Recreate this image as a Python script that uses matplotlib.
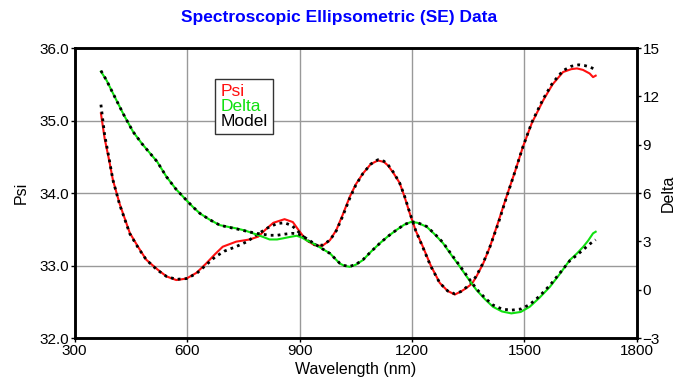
import matplotlib.pyplot as plt

plt.rcParams['font.family'] = ['Liberation Sans', 'DejaVu Sans']

# Psi measurement (red)
psi_wl = [370, 380, 392, 402, 420, 447, 470, 491, 520, 545, 571, 598, 625, 651, 675, 695,
          731, 767, 790, 810, 830, 860, 882, 900, 918, 940, 960, 981, 998, 1015, 1034, 1050,
          1069, 1090, 1109, 1125, 1136, 1150, 1167, 1180, 1194, 1210, 1229, 1250, 1274, 1295,
          1314, 1330, 1345, 1360, 1372, 1390, 1408, 1430, 1452, 1475, 1496, 1520, 1550, 1575,
          1603, 1625, 1640, 1656, 1674, 1683, 1690]
psi = [35.10, 34.75, 34.45, 34.18, 33.85, 33.45, 33.25, 33.08, 32.95, 32.85, 32.80, 32.82,
       32.90, 33.03, 33.16, 33.26, 33.33, 33.36, 33.40, 33.50, 33.59, 33.64, 33.60, 33.47,
       33.35, 33.28, 33.27, 33.35, 33.49, 33.70, 33.95, 34.12, 34.27, 34.40, 34.45, 34.43,
       34.38, 34.28, 34.14, 33.95, 33.72, 33.48, 33.26, 33.00, 32.76, 32.65, 32.60, 32.64,
       32.69, 32.75, 32.85, 33.03, 33.26, 33.60, 33.95, 34.30, 34.64, 34.97, 35.28, 35.50,
       35.67, 35.71, 35.72, 35.70, 35.65, 35.60, 35.62]

# Psi model (black dotted)
psi_model_wl = [370, 380, 392, 402, 420, 447, 470, 491, 520, 545, 571, 598, 625, 651, 675,
                700, 730, 760, 790, 815, 840, 860, 880, 900, 920, 940, 960, 981, 998, 1015,
                1034, 1050, 1069, 1090, 1109, 1125, 1136, 1150, 1167, 1180, 1194, 1210, 1229,
                1250, 1274, 1295, 1314, 1330, 1345, 1360, 1372, 1390, 1408, 1430, 1452, 1475,
                1496, 1520, 1550, 1575, 1603, 1625, 1645, 1660, 1675, 1690]
psi_model = [35.22, 34.80, 34.47, 34.18, 33.84, 33.44, 33.24, 33.08, 32.94, 32.85, 32.81,
             32.82, 32.89, 33.01, 33.12, 33.20, 33.26, 33.33, 33.44, 33.52, 33.58, 33.59,
             33.55, 33.45, 33.35, 33.29, 33.28, 33.35, 33.48, 33.68, 33.93, 34.11, 34.27,
             34.40, 34.46, 34.44, 34.39, 34.29, 34.14, 33.96, 33.73, 33.48, 33.25, 32.99,
             32.76, 32.65, 32.61, 32.64, 32.70, 32.77, 32.86, 33.04, 33.26, 33.58, 33.94,
             34.30, 34.64, 34.98, 35.30, 35.52, 35.69, 35.75, 35.77, 35.76, 35.74, 35.70]

# Delta measurement (green)
delta_wl = [370, 385, 402, 430, 456, 480, 500, 520, 545, 570, 598, 615, 634, 660, 687, 710,
            731, 755, 776, 800, 820, 840, 856, 875, 892, 905, 920, 936, 960, 981, 1007, 1020,
            1034, 1050, 1069, 1090, 1114, 1135, 1158, 1180, 1199, 1215, 1239, 1260, 1283, 1305,
            1328, 1350, 1372, 1395, 1416, 1440, 1465, 1490, 1514, 1540, 1568, 1595, 1621, 1640,
            1657, 1670, 1683, 1690]
delta = [13.55, 13.0, 12.2, 10.9, 9.8, 9.05, 8.5, 7.95, 7.01, 6.25, 5.56, 5.15, 4.74, 4.35,
         4.01, 3.90, 3.81, 3.67, 3.50, 3.30, 3.12, 3.12, 3.19, 3.28, 3.35, 3.25, 3.05, 2.88,
         2.55, 2.26, 1.63, 1.48, 1.42, 1.55, 1.84, 2.35, 2.88, 3.30, 3.70, 4.05, 4.22, 4.15,
         3.91, 3.45, 2.88, 2.15, 1.42, 0.68, -0.02, -0.60, -1.06, -1.35, -1.47, -1.38, -1.06,
         -0.50, 0.18, 1.00, 1.84, 2.25, 2.67, 3.05, 3.50, 3.60]

# Delta model (black dotted)
delta_model_wl = [370, 385, 402, 430, 456, 480, 500, 520, 545, 570, 598, 615, 634, 660, 687,
                  710, 731, 755, 780, 800, 820, 840, 860, 880, 895, 910, 925, 940, 960, 981,
                  1007, 1020, 1034, 1050, 1069, 1090, 1114, 1135, 1158, 1180, 1199, 1215, 1239,
                  1260, 1283, 1305, 1328, 1350, 1372, 1395, 1416, 1440, 1465, 1490, 1514, 1540,
                  1568, 1595, 1621, 1640, 1660, 1675, 1690]
delta_model = [13.60, 13.0, 12.2, 10.9, 9.8, 9.05, 8.5, 7.95, 7.01, 6.25, 5.56, 5.15, 4.74,
               4.35, 4.01, 3.88, 3.78, 3.65, 3.52, 3.45, 3.38, 3.38, 3.45, 3.50, 3.48, 3.30,
               3.08, 2.85, 2.55, 2.25, 1.65, 1.50, 1.45, 1.57, 1.86, 2.35, 2.88, 3.30, 3.70,
               4.05, 4.22, 4.16, 3.93, 3.48, 2.92, 2.20, 1.47, 0.75, 0.05, -0.52, -0.95, -1.20,
               -1.27, -1.20, -0.92, -0.40, 0.28, 1.05, 1.80, 2.15, 2.55, 2.85, 3.10]

fig = plt.figure(figsize=(6.79, 3.85), dpi=100)
ax = fig.add_axes([0.110, 0.122, 0.828, 0.753])
ax2 = ax.twinx()

ax.plot(psi_wl, psi, color='#ff1010', lw=1.5, zorder=3)
ax.plot(psi_model_wl, psi_model, color='black', lw=2, ls=(0, (1, 1.5)), zorder=4)
ax2.plot(delta_wl, delta, color='#10e010', lw=1.5, zorder=3)
ax2.plot(delta_model_wl, delta_model, color='black', lw=2, ls=(0, (1, 1.5)), zorder=4)

ax.set_xlim(300, 1800)
ax.set_ylim(32, 36)
ax2.set_ylim(-3, 15)
ax.set_xticks([300, 600, 900, 1200, 1500, 1800])
ax.set_yticks([32, 33, 34, 35, 36])
ax.set_yticklabels(['32.0', '33.0', '34.0', '35.0', '36.0'])
ax2.set_yticks([-3, 0, 3, 6, 9, 12, 15])
ax.grid(True, color='#999999', lw=1)
ax.set_axisbelow(True)

for a in (ax, ax2):
    for s in a.spines.values():
        s.set_linewidth(1.8)
    a.tick_params(labelsize=11, length=3, width=1, pad=1)

ax.set_xlabel('Wavelength (nm)', fontsize=11.5, labelpad=3)
ax.set_ylabel('Psi', fontsize=11.5, labelpad=8)
ax2.set_ylabel('Delta', fontsize=11.5, labelpad=1)
fig.suptitle('Spectroscopic Ellipsometric (SE) Data', color='#0000ff',
             fontweight='bold', fontsize=12.5, y=0.975)

# legend with text only
handles = [plt.Line2D([], [], lw=0) for _ in range(3)]
leg = ax2.legend(handles, ['Psi', 'Delta', 'Model'], loc='upper left',
                 bbox_to_anchor=(0.235, 0.925), handlelength=0, handletextpad=0,
                 labelcolor=['#ff1010', '#10e010', 'black'], fontsize=12.5,
                 fancybox=False, framealpha=1, edgecolor='#333333',
                 borderpad=0.3, labelspacing=0.0)
leg.get_frame().set_linewidth(1)

fig.savefig('out.png', dpi=100)
